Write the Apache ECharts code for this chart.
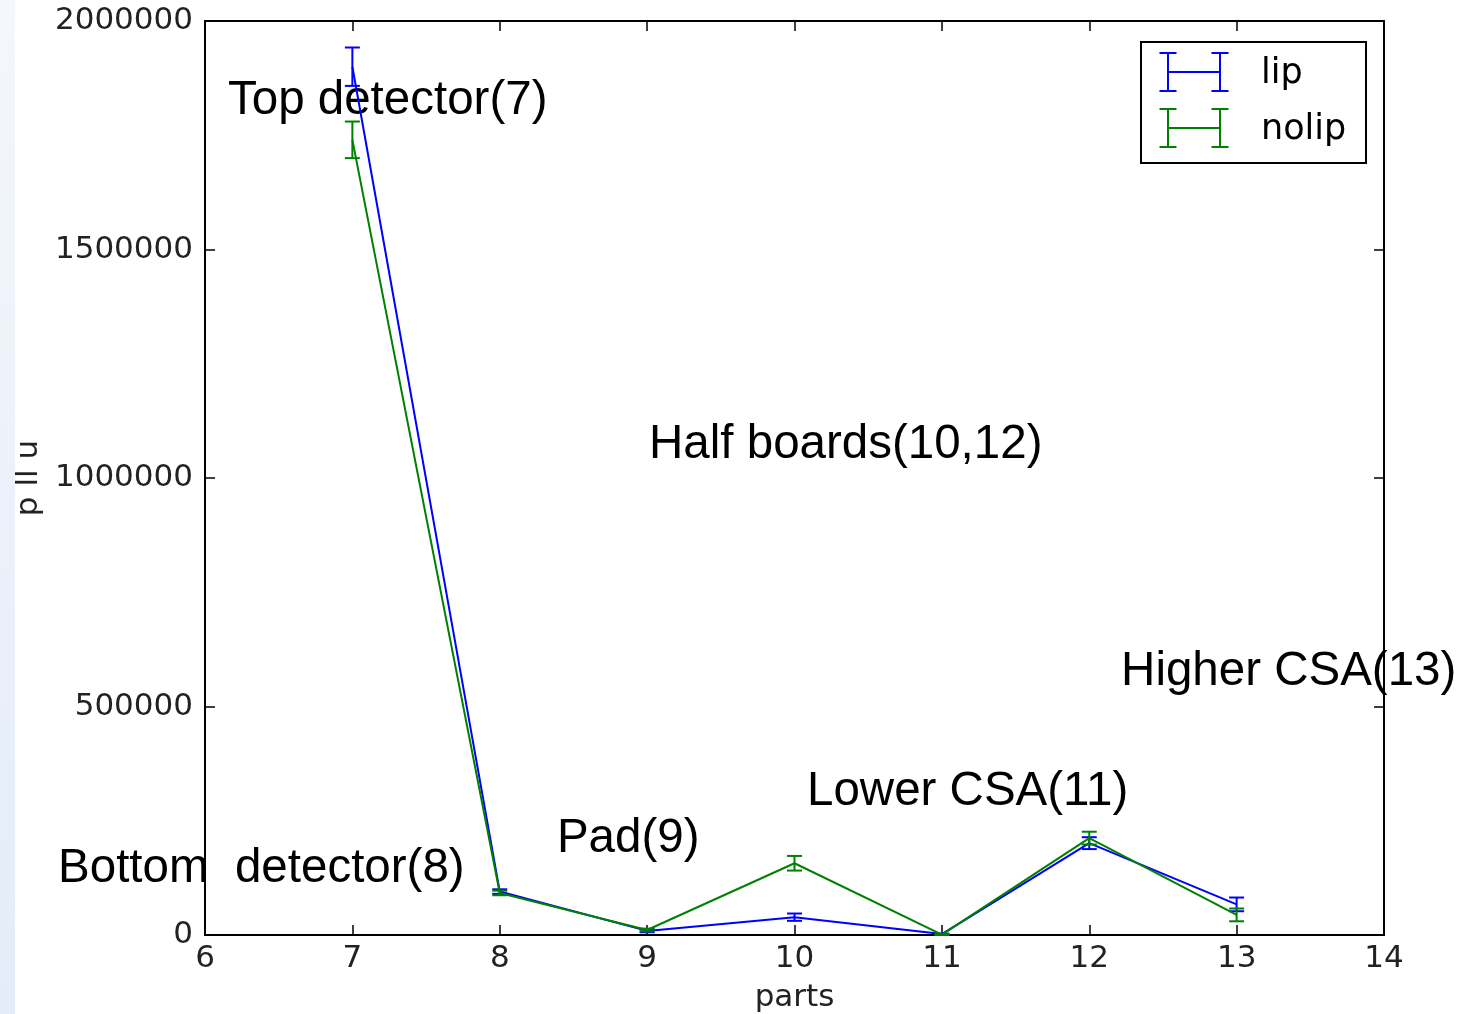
<!DOCTYPE html>
<html>
<head>
<meta charset="utf-8">
<script src="https://cdn.jsdelivr.net/npm/echarts@6/dist/echarts.min.js"></script>
<style>
html,body{margin:0;padding:0;background:#fff;}
#chart{width:1460px;height:1014px;}
</style>
</head>
<body>
<div id="chart"></div>
<script>
// ---- data ----
var parts = [7, 8, 9, 10, 11, 12, 13];
var lipValues = [1900000, 95000, 9000, 39000, 2000, 201000, 67000];
var lipErrors = [42000, 5000, 3000, 8000, 1000, 13000, 15000];
var nolipValues = [1740000, 92000, 11000, 157000, 1000, 212000, 44000];
var nolipErrors = [40000, 5000, 3000, 16000, 1000, 14000, 14000];
var seriesNames = ['lip', 'nolip'];
var xTicks = [6, 7, 8, 9, 10, 11, 12, 13, 14];
var yTicks = [0, 500000, 1000000, 1500000, 2000000];
var annotationTexts = ['Top detector(7)', 'Half boards(10,12)', 'Higher CSA(13)', 'Lower CSA(11)', 'Pad(9)', 'Bottom  detector(8)'];
var annotationX = [6.156, 9.013, 12.216, 10.085, 8.388, 5.003];
var annotationY = [1825000, 1072000, 575500, 313000, 210000, 144400];
var xLabel = 'parts';
var yLabel = 'p ll u';

var BLUE = '#0000ff', GREEN = '#008000';
var TICK_FONT = '"DejaVu Sans", sans-serif';

function pairs(xs, ys) { return xs.map(function (x, i) { return [x, ys[i]]; }); }
function triples(xs, ys, es) { return xs.map(function (x, i) { return [x, ys[i], es[i]]; }); }

function errRender(color) {
  return function (params, api) {
    var x = api.value(0), y = api.value(1), e = api.value(2);
    var hi = api.coord([x, y + e]), lo = api.coord([x, y - e]);
    var hw = 7.5;
    var st = { stroke: color, lineWidth: 2 };
    return { type: 'group', children: [
      { type: 'line', shape: { x1: hi[0], y1: hi[1], x2: lo[0], y2: lo[1] }, style: st },
      { type: 'line', shape: { x1: hi[0] - hw, y1: hi[1], x2: hi[0] + hw, y2: hi[1] }, style: st },
      { type: 'line', shape: { x1: lo[0] - hw, y1: lo[1], x2: lo[0] + hw, y2: lo[1] }, style: st }
    ]};
  };
}

var axisCommon = {
  type: 'value',
  axisLine: { show: true, onZero: false, lineStyle: { color: '#000', width: 2 } },
  axisTick: { show: true, inside: true, length: 10, lineStyle: { color: '#000', width: 1.5 } },
  splitLine: { show: false }
};

var chart = echarts.init(document.getElementById('chart'), null, { renderer: 'canvas' });

var option = {
  backgroundColor: '#ffffff',
  animation: false,
  grid: { left: 205, right: 76, top: 21, bottom: 79, containLabel: false, outerBoundsMode: 'none' },
  xAxis: [
    Object.assign({}, axisCommon, {
      position: 'bottom', min: xTicks[0], max: xTicks[xTicks.length - 1], interval: 1,
      name: xLabel, nameLocation: 'middle', nameGap: 47,
      nameTextStyle: { fontFamily: TICK_FONT, fontSize: 31, color: '#222' },
      axisLabel: { fontFamily: TICK_FONT, fontSize: 31, color: '#222', margin: 8, formatter: function (v) { return String(v); } }
    }),
    Object.assign({}, axisCommon, {
      position: 'top', min: xTicks[0], max: xTicks[xTicks.length - 1], interval: 1,
      axisLabel: { show: false }
    })
  ],
  yAxis: [
    Object.assign({}, axisCommon, {
      position: 'left', min: yTicks[0], max: yTicks[yTicks.length - 1], interval: 500000,
      axisLabel: { fontFamily: TICK_FONT, fontSize: 31, color: '#222', margin: 12, padding: [5, 0, 0, 0],
        formatter: function (v) { return String(v); } }
    }),
    Object.assign({}, axisCommon, {
      position: 'right', min: yTicks[0], max: yTicks[yTicks.length - 1], interval: 500000,
      axisLabel: { show: false }
    })
  ],
  series: [
    { name: seriesNames[0], type: 'line', data: pairs(parts, lipValues), showSymbol: false, symbol: 'none',
      lineStyle: { color: BLUE, width: 2 }, z: 3 },
    { name: seriesNames[0], type: 'custom', data: triples(parts, lipValues, lipErrors), renderItem: errRender(BLUE), z: 3 },
    { name: seriesNames[1], type: 'line', data: pairs(parts, nolipValues), showSymbol: false, symbol: 'none',
      lineStyle: { color: GREEN, width: 2 }, z: 4 },
    { name: seriesNames[1], type: 'custom', data: triples(parts, nolipValues, nolipErrors), renderItem: errRender(GREEN), z: 4 }
  ]
};
chart.setOption(option);

// annotations in data coordinates + legend + y-label
var elements = [];
annotationTexts.forEach(function (t, i) {
  var p = chart.convertToPixel({ gridIndex: 0 }, [annotationX[i], annotationY[i]]);
  elements.push({ type: 'text', x: p[0], y: p[1], z: -1,
    style: { text: t, fill: '#000', font: '47.5px "Liberation Sans", Arial, sans-serif', textAlign: 'left', textVerticalAlign: 'middle' } });
});

// legend box
var lg = { x: 1141, y: 42, w: 225, h: 121 };
elements.push({ type: 'rect', shape: { x: lg.x, y: lg.y, width: lg.w, height: lg.h }, z: 10,
  style: { fill: '#fff', stroke: '#000', lineWidth: 2 } });
function legendIcon(cy, color) {
  var st = { stroke: color, lineWidth: 2 };
  var xl = 1168, xr = 1220, hh = 19, cw = 8.5;
  return [
    { type: 'line', z: 11, shape: { x1: xl, y1: cy, x2: xr, y2: cy }, style: st },
    { type: 'line', z: 11, shape: { x1: xl, y1: cy - hh, x2: xl, y2: cy + hh }, style: st },
    { type: 'line', z: 11, shape: { x1: xr, y1: cy - hh, x2: xr, y2: cy + hh }, style: st },
    { type: 'line', z: 11, shape: { x1: xl - cw, y1: cy - hh, x2: xl + cw, y2: cy - hh }, style: st },
    { type: 'line', z: 11, shape: { x1: xl - cw, y1: cy + hh, x2: xl + cw, y2: cy + hh }, style: st },
    { type: 'line', z: 11, shape: { x1: xr - cw, y1: cy - hh, x2: xr + cw, y2: cy - hh }, style: st },
    { type: 'line', z: 11, shape: { x1: xr - cw, y1: cy + hh, x2: xr + cw, y2: cy + hh }, style: st }
  ];
}
var legendYs = [72, 128];
var legendColors = [BLUE, GREEN];
seriesNames.forEach(function (n, i) {
  elements = elements.concat(legendIcon(legendYs[i], legendColors[i]));
  elements.push({ type: 'text', z: 11, x: 1261, y: legendYs[i] + 2,
    style: { text: n, fill: '#000', font: '35px "DejaVu Sans", sans-serif', textAlign: 'left', textVerticalAlign: 'middle' } });
});

// y label (partly hidden under left strip)
elements.push({ type: 'text', z: 5, x: 44, y: 478, rotation: Math.PI / 2,
  style: { text: yLabel, fill: '#222', font: '31px "DejaVu Sans", sans-serif', textAlign: 'center', textVerticalAlign: 'bottom' } });
// left slide strip
elements.push({ type: 'rect', z: 100, shape: { x: 0, y: 0, width: 15, height: 1014 },
  style: { fill: new echarts.graphic.LinearGradient(0, 0, 0, 1, [{ offset: 0, color: '#f4f7fc' }, { offset: 1, color: '#e3ecf8' }]) } });

chart.setOption({ graphic: { elements: elements } });
</script>
</body>
</html>
